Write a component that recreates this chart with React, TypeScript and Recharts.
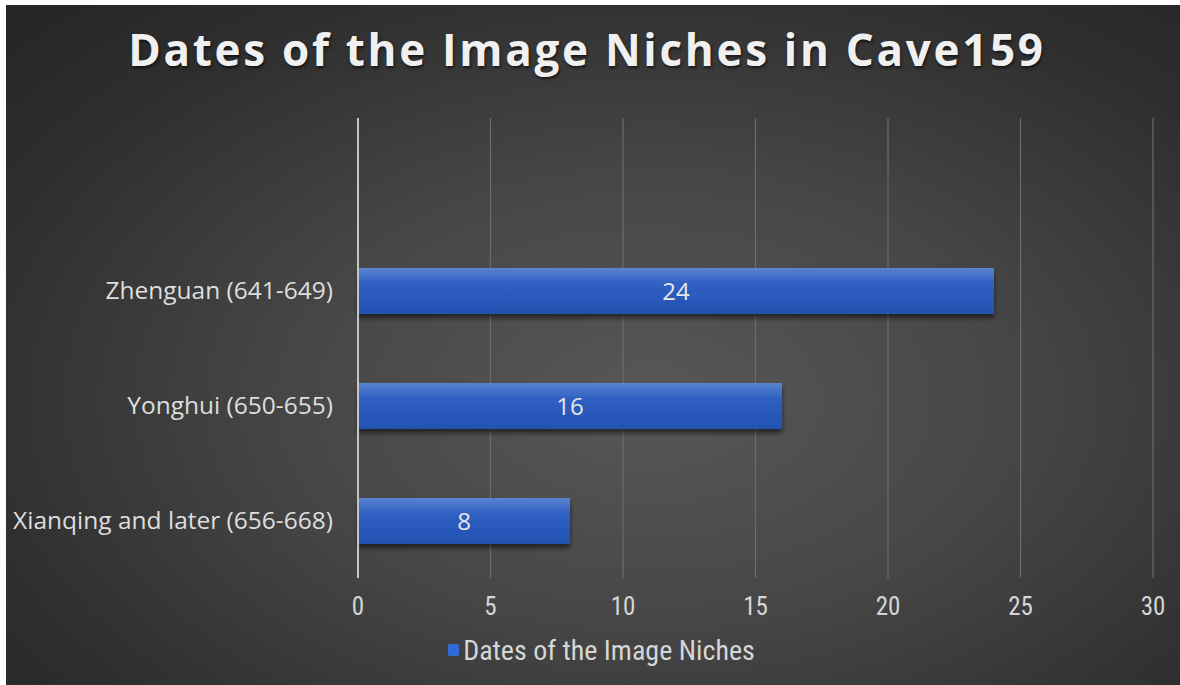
import { BarChart, Bar, XAxis, YAxis, CartesianGrid, Legend, LabelList } from "recharts";

// reign periods, top to bottom (first row is an empty slot, as in the source sheet)
const periods = ["", "Zhenguan (641-649)", "Yonghui (650-655)", "Xianqing and later (656-668)"];
const nicheCounts = [null, 24, 16, 8];
const xTicks = [0, 5, 10, 15, 20, 25, 30];
const seriesName = "Dates of the Image Niches";
const chartTitle = "Dates of the Image Niches in Cave159";

const data = periods.map((p, i) => ({ period: p, count: nicheCounts[i] }));

const FONT = "'Open Sans', 'Noto Sans', sans-serif";
const NARROW = "'Liberation Sans Narrow', 'Roboto Condensed', Roboto, sans-serif";

function LegendContent() {
  return (
    <div style={{ display: "flex", alignItems: "center", justifyContent: "center", height: 30, paddingLeft: 44 }}>
      <span style={{ width: 11, height: 12, borderRadius: 2, background: "#2f6ad8", marginRight: 4, display: "inline-block" }} />
      <span style={{ fontFamily: NARROW, fontSize: 28, color: "#d6d6d6" }}>{seriesName}</span>
    </div>
  );
}

export default function App() {
  return (
    <div style={{ position: "absolute", left: 0, top: 0, width: 1180, height: 685, background: "#fff" }}>
      <div
        style={{
          position: "absolute", left: 6, top: 5, width: 1174, height: 680,
          background: "radial-gradient(ellipse 75% 80% at 55% 58%, #575757 0%, #474747 40%, #2e2e2e 80%, #262626 100%)",
        }}
      >
        <div
          style={{
            position: "absolute", left: 0, top: 14, width: 1162, paddingRight: 12, textAlign: "center",
            fontFamily: FONT, fontWeight: 700, fontSize: 44, letterSpacing: 2.7,
            color: "#f0f0f0", textShadow: "1px 2px 3px rgba(0,0,0,0.6)",
          }}
        >
          {chartTitle}
        </div>
        <BarChart
          width={1174} height={680} data={data} layout="vertical"
          margin={{ top: 113, right: 27, left: 0, bottom: 20 }}
        >
          <defs>
            <linearGradient id="barFill" x1="0" y1="0" x2="0" y2="1">
              <stop offset="0%" stopColor="#5a84d0" />
              <stop offset="35%" stopColor="#2f5fc2" />
              <stop offset="100%" stopColor="#2352b2" />
            </linearGradient>
            <filter id="barShadow" x="-5%" y="-20%" width="110%" height="160%">
              <feDropShadow dx="0" dy="4" stdDeviation="2.5" floodColor="#000" floodOpacity="0.55" />
            </filter>
          </defs>
          <CartesianGrid horizontal={false} stroke="#6c6c6c" strokeWidth={1.2} />
          <XAxis
            type="number" domain={[0, 30]} ticks={xTicks} height={57}
            axisLine={false} tickLine={false} tickSize={0} tickMargin={19}
            tick={{ fill: "#d6d6d6", fontSize: 25, fontFamily: NARROW }}
          />
          <YAxis
            type="category" dataKey="period" width={352}
            axisLine={{ stroke: "#c4c4c4", strokeWidth: 2 }}
            tickLine={false} tickSize={0} tickMargin={25}
            tick={{ fill: "#dedede", fontSize: 24.5, fontFamily: FONT }}
          />
          <Legend verticalAlign="bottom" height={30} content={<LegendContent />} />
          <Bar
            dataKey="count" name={seriesName} barSize={46}
            fill="url(#barFill)" filter="url(#barShadow)"
            isAnimationActive={false}
          >
            <LabelList dataKey="count" position="center" fill="#e6e6e6" fontSize={24} fontFamily={FONT} />
          </Bar>
        </BarChart>
      </div>
    </div>
  );
}
